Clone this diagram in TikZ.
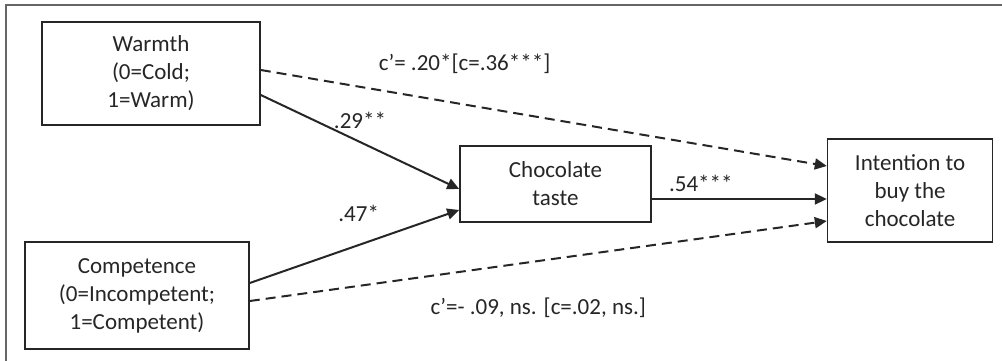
\documentclass[tikz,border=0pt]{standalone}
\usepackage{fontspec}
\setmainfont{Carlito}
\usetikzlibrary{arrows.meta,positioning}

\begin{document}
\begin{tikzpicture}[
  x=1pt, y=-1pt,
  font=\fontsize{23}{28}\selectfont,
  var/.style={draw=black!85, line width=1.6pt, align=center, inner sep=0pt, text=black!85},
  arr/.style={line width=2pt, draw=black!85, -{Triangle[length=12pt,width=11pt]}},
  indirect/.style={arr, dash pattern=on 10pt off 6pt},
  coef/.style={text=black!85, inner sep=0pt},
  frame/.style={draw=black!60, line width=2pt}
]
\useasboundingbox (0,0) rectangle (1002,361);
\draw[frame] (6,361) |- (1002,5);

\node[var, minimum width=218pt, minimum height=103pt] (warmth) at (151,73.5) {Warmth\\(0=Cold;\\1=Warm)};
\node[var, minimum width=224pt, minimum height=107pt] (competence) at (137,295.5) {Competence\\(0=Incompetent;\\1=Competent)};
\node[var, minimum width=191pt, minimum height=76pt] (taste) at (555.5,184) {Chocolate\\taste};
\node[var, minimum width=165pt, minimum height=103pt, right=175pt of taste, yshift=-6.5pt] (intention) {Intention to\\buy the\\chocolate};

\draw[arr] ([yshift=-21.5pt]warmth.east) -- node[coef, pos=.5, yshift=22pt] {.29**} ([yshift=-5pt]taste.west);
\draw[indirect] ([yshift=3.5pt]warmth.east) -- node[coef, pos=.36, yshift=41pt] {c’= .20*[c=.36***]} ([yshift=24.5pt]intention.west);
\draw[arr] ([yshift=12.5pt]competence.east) -- node[coef, pos=.52, yshift=32pt] {.47*} ([yshift=-26pt]taste.west);
\draw[indirect] ([yshift=-5.5pt]competence.east) -- node[coef, pos=.5, yshift=-47pt] {c’=- .09, ns. [c=.02, ns.]} ([yshift=-30.5pt]intention.west);
\draw[arr] ([yshift=-15pt]taste.east) -- node[coef, pos=.28, yshift=16pt] {.54***} ([yshift=-15pt]taste.east -| intention.west);
\end{tikzpicture}
\end{document}
